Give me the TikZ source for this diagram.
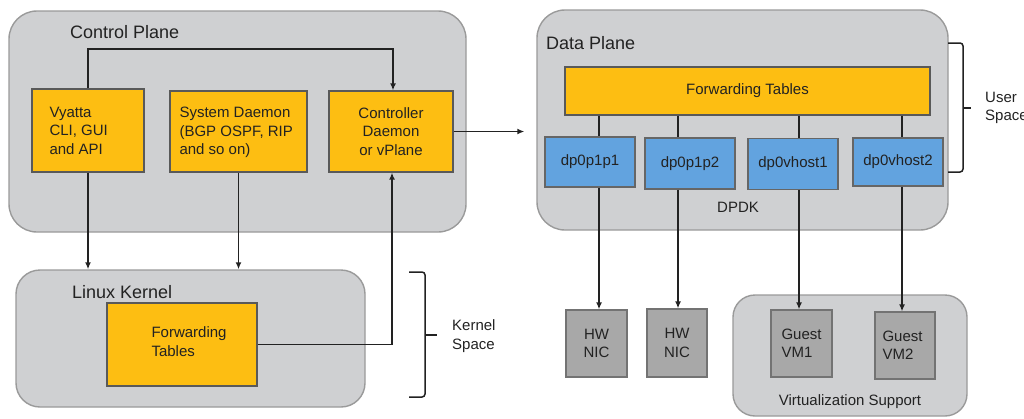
\documentclass[tikz,border=0pt]{standalone}
\usepackage{fontspec}
\setmainfont{Liberation Sans}
\usetikzlibrary{arrows.meta,calc,positioning}
\definecolor{planegray}{HTML}{CFD0D2}
\definecolor{planeedge}{HTML}{9A9A9A}
\definecolor{fwdorange}{HTML}{FDBE12}
\definecolor{portblue}{HTML}{62A3DF}
\definecolor{nicgray}{HTML}{A8A8A8}
\definecolor{ink}{HTML}{222222}

\begin{document}
\begin{tikzpicture}[x=1pt,y=-1pt,
    plane/.style={draw=planeedge,fill=planegray,line width=1.4pt,rounded corners=28pt,inner sep=0pt},
    ob/.style={draw=black!65,fill=fwdorange,line width=1.3pt,inner sep=0pt,text=ink},
    pb/.style={draw=black!60,fill=portblue,line width=1.3pt,inner sep=0pt,text=ink},
    nic/.style={draw=black!55,fill=nicgray,line width=1.3pt,inner sep=0pt,text=ink,align=center},
    t/.style={text=ink,inner sep=0pt,font=\fontsize{15}{18.5}\selectfont},
    ttl/.style={text=ink,inner sep=0pt,font=\fontsize{18}{22}\selectfont},
    e/.style={-{Latex[length=7pt,width=6pt]},line width=1.8pt,ink},
    l/.style={line width=1.8pt,ink},
    br/.style={line width=1.5pt,ink,rounded corners=3pt}
  ]
    \useasboundingbox (0,0) rectangle (1024,418);
    % control side
    \node[plane,minimum width=457pt,minimum height=221pt] (cp) at (237.5,121.5) {};
    \node[ttl,anchor=west] (cptitle) at (70,32) {Control Plane};
    \node[ob,minimum width=112pt,minimum height=83pt] (vyatta) at (88,130.5) {};
    \node[t,anchor=west,align=left] (vyattatxt) at ([xshift=18pt]vyatta.west) {Vyatta\\CLI, GUI\\and API};
    \node[ob,minimum width=137pt,minimum height=81pt] (sysd) at (238.5,131.5) {};
    \node[t,anchor=west,align=left] (sysdtxt) at ([xshift=10pt,yshift=-1pt]sysd.west) {System Daemon\\(BGP OSPF, RIP\\and so on)};
    \node[ob,minimum width=124pt,minimum height=81pt,t,align=center] (ctrl) at (391,131.5) {Controller\\Daemon\\or vPlane};
    \node[plane,rounded corners=24pt,minimum width=349pt,minimum height=137pt] (lk) at (190.5,338.5) {};
    \node[ttl,anchor=west] (lktitle) at (72,292) {Linux Kernel};
    \node[ob,minimum width=150pt,minimum height=83pt] (kft) at (182,344.5) {};
    \node[t,anchor=west,align=left] (kfttxt) at ([xshift=45pt,yshift=3pt]kft.west) {Forwarding\\Tables};
    \draw[e] (vyatta.north) -- ++(0,-39) -| ([xshift=2pt]ctrl.north);
    \draw[e] (vyatta.south) -- (vyatta.south |- lk.north);
    \draw[e] (sysd.south) -- (sysd.south |- lk.north);
    \draw[e] (kft.east) -| ([xshift=1pt]ctrl.south);
    % kernel space bracket
    \coordinate (kb) at (425,272);
    \draw[br] (409,272) -- (kb) -- (425,397) -- (409,397);
    \draw[br] (425,335) -- (437,335);
    \node[t,anchor=west,align=left] (kstxt) at (452,336) {Kernel\\Space};
    % data side
    \node[plane,minimum width=411pt,minimum height=220pt] (dp) at (742.5,120) {};
    \node[ttl,anchor=west] (dptitle) at (546,43) {Data Plane};
    \node[ob,minimum width=365pt,minimum height=48pt,t] (dpft) at (747.5,91) {Forwarding Tables};
    \node[pb,t,minimum width=90pt,minimum height=50pt] (p1) at (590,162) {dp0p1p1};
    \node[pb,t,minimum width=90pt,minimum height=51pt] (p2) at (690,163.5) {dp0p1p2};
    \node[pb,t,minimum width=90pt,minimum height=51pt] (vh1) at (793,164) {dp0vhost1};
    \node[pb,t,minimum width=90pt,minimum height=48pt] (vh2) at (898,162) {dp0vhost2};
    \node[t] (dpdk) at (738,207) {DPDK};
    \draw[e,shorten >=12pt] (ctrl.east) -- (ctrl.east -| dp.west);
    % user space bracket
    \draw[br] (948,43) -- (963,43) -- (963,172) -- (948,172);
    \draw[br] (963,108) -- (971,108);
    \node[t,anchor=west,align=left] (ustxt) at (985,108) {User\\Space};
    % virtualization
    \node[plane,rounded corners=22pt,minimum width=234pt,minimum height=121pt] (virt) at (850,355.5) {};
    \node[t] (virttxt) at (850,402) {Virtualization Support};
    \node[nic,t,minimum width=61pt,minimum height=67pt] (nic1) at (596.5,343.5) {HW\\NIC};
    \node[nic,t,minimum width=60pt,minimum height=68pt] (nic2) at (677,343) {HW\\NIC};
    \node[nic,minimum width=61pt,minimum height=67pt] (vm1) at (801.5,343.5) {};
    \node[t,anchor=west,align=left] (vm1txt) at ([xshift=11pt]vm1.west) {Guest\\VM1};
    \node[nic,minimum width=60pt,minimum height=67pt] (vm2) at (905,345.5) {};
    \node[t,anchor=west,align=left] (vm2txt) at ([xshift=8pt]vm2.west) {Guest\\VM2};
    % port links
    \coordinate (c1) at (599,0);
    \coordinate (c2) at (678,0);
    \coordinate (c3) at (799,0);
    \coordinate (c4) at (902,0);
    \draw[l] (c1 |- dpft.south) -- (c1 |- p1.north);
    \draw[l] (c2 |- dpft.south) -- (c2 |- p2.north);
    \draw[l] (c3 |- dpft.south) -- (c3 |- vh1.north);
    \draw[l] (c4 |- dpft.south) -- (c4 |- vh2.north);
    \draw[e] (c1 |- p1.south) -- (c1 |- nic1.north);
    \draw[e] (c2 |- p2.south) -- (c2 |- nic2.north);
    \draw[e] (c3 |- vh1.south) -- (c3 |- vm1.north);
    \draw[e] (c4 |- vh2.south) -- (c4 |- vm2.north);
  \end{tikzpicture}
\end{document}
